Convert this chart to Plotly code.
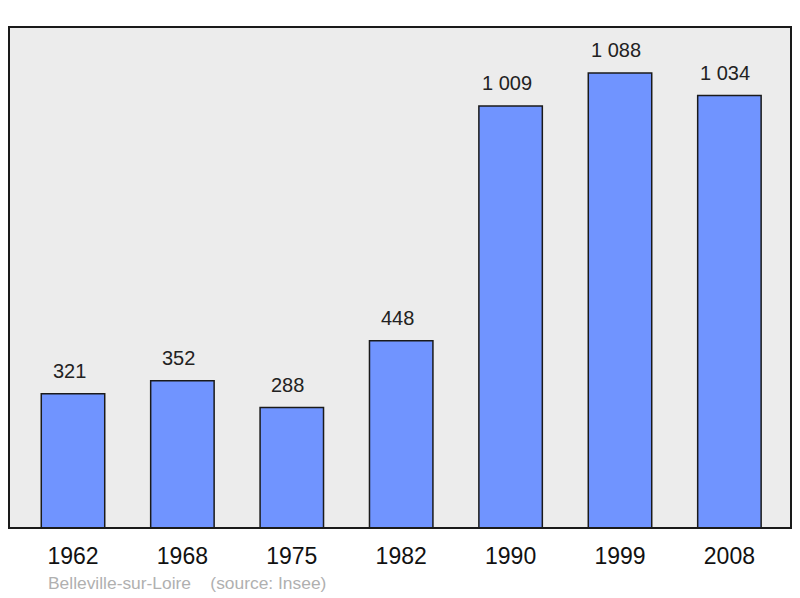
import plotly.graph_objects as go

years = ["1962", "1968", "1975", "1982", "1990", "1999", "2008"]
population = [321, 352, 288, 448, 1009, 1088, 1034]
labels = ["321", "352", "288", "448", "1 009", "1 088", "1 034"]
caption = "Belleville-sur-Loire    (source: Insee)"

# page body has an 8px margin; compensate so the chart lands where the reference has it
W, H = 792, 590
pl, pr, pt, pb = 1, 9, 19, 70
plot_h = H - pt - pb
plot_w = W - pl - pr

fig = go.Figure()
fig.add_trace(go.Bar(
    x=list(range(len(years))), y=population,
    width=0.58,
    marker=dict(color="#7094FF", line=dict(color="#1a1a1a", width=1.5)),
    hoverinfo="skip",
))

for i, (v, t) in enumerate(zip(population, labels)):
    fig.add_annotation(x=i, y=v, text=t, showarrow=False, yanchor="bottom",
                       yshift=10, xshift=-4,
                       font=dict(size=20, color="#222222", family="Liberation Sans, Arial"))

fig.add_annotation(xref="paper", yref="paper", x=(46 - 9) / plot_w, y=-55 / plot_h,
                   text=caption.replace(" ", "&nbsp;"),
                   showarrow=False, xanchor="left", yanchor="middle",
                   font=dict(size=17.4, color="#b0b0b0", family="Liberation Sans, Arial"))

fig.add_shape(type="rect", xref="paper", yref="paper", x0=0, y0=0, x1=1, y1=1,
              line=dict(color="#1a1a1a", width=2), layer="above")

fig.update_layout(
    width=W, height=H,
    margin=dict(l=pl, r=pr, t=pt, b=pb, autoexpand=False),
    paper_bgcolor="white", plot_bgcolor="#ECECEC",
    showlegend=False,
    xaxis=dict(range=[-0.585, 6.563], tickmode="array", tickvals=list(range(len(years))),
               ticktext=years, showgrid=False, zeroline=False, ticks="", ticklabelstandoff=12,
               tickfont=dict(size=23, color="#111111", family="Liberation Sans, Arial")),
    yaxis=dict(range=[0, 1198], showgrid=False, zeroline=False, showticklabels=False, ticks=""),
)

fig.write_html("out.html")
